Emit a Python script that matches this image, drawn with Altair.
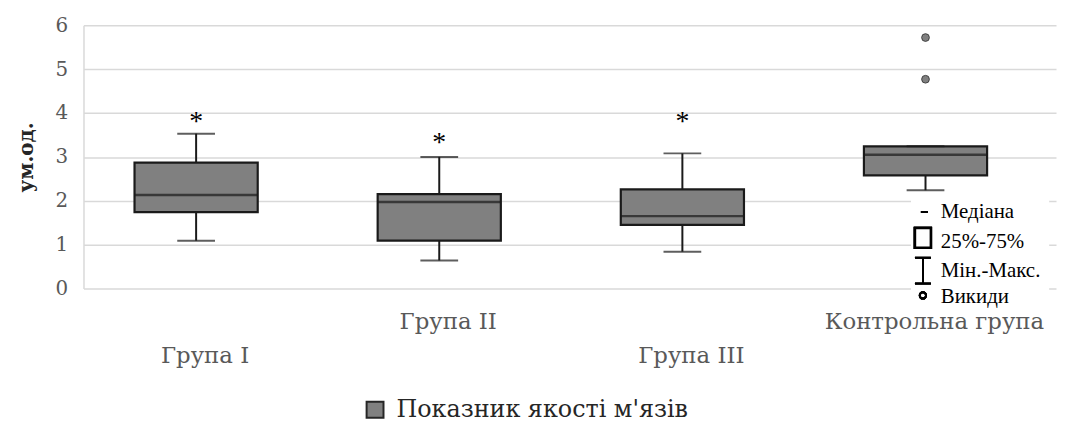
import altair as alt
import pandas as pd

groups = ["Група I", "Група II", "Група III", "Контрольна група"]
q1 = [1.74, 1.09, 1.45, 2.58]
q3 = [2.87, 2.15, 2.26, 3.24]
median = [2.13, 1.97, 1.65, 3.05]
wmin = [1.09, 0.64, 0.84, 2.24]
wmax = [3.53, 3.00, 3.08, 3.24]
star_groups = ["Група I", "Група II", "Група III"]
star_y = [3.90, 3.42, 3.91]
outlier_groups = ["Контрольна група", "Контрольна група"]
outlier_vals = [4.77, 5.72]
legend_items = ["Медіана", "25%-75%", "Мін.-Макс.", "Викиди"]
series_name = "Показник якості м'язів"

FONT = "Liberation Serif"
WIDE = "DejaVu Serif"
GRID = "#d9d9d9"
FILL = "#808080"
EDGE = "#1a1a1a"
OFF = -9

df = pd.DataFrame({"g": groups, "q1": q1, "q3": q3, "med": median, "lo": wmin, "hi": wmax})
stars = pd.DataFrame({"g": star_groups, "y": star_y, "t": ["*"] * len(star_groups)})
outs = pd.DataFrame({"g": outlier_groups, "v": outlier_vals})
labels = pd.DataFrame({"g": groups, "row": [1, 0, 1, 0]})

xs = alt.X("g:N", sort=groups, axis=None, scale=alt.Scale(domain=groups, paddingInner=0, paddingOuter=0))
yscale = alt.Scale(domain=[0, 6], nice=False)

base = alt.Chart(df)

axis_layer = base.mark_rule(opacity=0).encode(
    x=xs,
    y=alt.Y("lo:Q", scale=yscale, title="ум.од.",
            axis=alt.Axis(values=[0, 1, 2, 3, 4, 5, 6], format="d", grid=True, gridColor=GRID,
                          gridWidth=1.5, domainColor=GRID, domainWidth=1.5, ticks=False,
                          labelFont=WIDE, labelFontSize=20, labelColor="#595959", labelPadding=16,
                          titleFont=WIDE, titleFontSize=20, titleFontWeight="bold",
                          titleColor="#262626", titlePadding=19)),
)

whisk = base.mark_rule(color=EDGE, strokeWidth=2, xOffset=OFF).encode(x=xs, y="lo:Q", y2="hi:Q")
box = base.mark_bar(size=124, color=FILL, stroke=EDGE, strokeWidth=2.2, xOffset=OFF).encode(
    x=xs, y="q1:Q", y2="q3:Q")
med = base.mark_tick(size=124, thickness=2.5, color=EDGE, orient="horizontal", xOffset=OFF).encode(
    x=xs, y="med:Q")
cap_lo = base.mark_tick(size=38, thickness=2, color=EDGE, orient="horizontal", xOffset=OFF).encode(
    x=xs, y="lo:Q")
cap_hi = base.mark_tick(size=38, thickness=2, color=EDGE, orient="horizontal", xOffset=OFF).encode(
    x=xs, y="hi:Q")

outl = alt.Chart(outs).mark_point(filled=True, size=60, color=FILL, stroke="#404040",
                                   strokeWidth=1, opacity=1, xOffset=OFF).encode(x=xs, y=alt.Y("v:Q", scale=yscale))
star = alt.Chart(stars).mark_text(font=FONT, fontSize=28, color="#000000", baseline="middle",
                                  dy=5, xOffset=OFF).encode(x=xs, y=alt.Y("y:Q", scale=yscale), text="t:N")

xl_up = alt.Chart(labels).transform_filter("datum.row == 0").mark_text(
    font=WIDE, fontSize=23, color="#595959", baseline="middle").encode(
    x=xs, y=alt.value(299), text="g:N")
xl_lo = alt.Chart(labels).transform_filter("datum.row == 1").mark_text(
    font=WIDE, fontSize=23, color="#595959", baseline="middle").encode(
    x=xs, y=alt.value(333), text="g:N")

# inner legend (explanation of box parts)
leg_bg = base.mark_rect(color="white").encode(
    x=alt.value(833), x2=alt.value(972), y=alt.value(176), y2=alt.value(284))
leg_dash = base.mark_rule(color="#000000", strokeWidth=2).encode(
    x=alt.value(843), x2=alt.value(850), y=alt.value(188))
leg_sq = base.mark_rect(fill="white", stroke="#000000", strokeWidth=2.5).encode(
    x=alt.value(837), x2=alt.value(853), y=alt.value(204), y2=alt.value(224))
leg_i = base.mark_rule(color="#000000", strokeWidth=1.8).encode(
    x=alt.value(845), y=alt.value(234), y2=alt.value(260))
leg_i_top = base.mark_rule(color="#000000", strokeWidth=1.8).encode(
    x=alt.value(837), x2=alt.value(853), y=alt.value(234))
leg_i_bot = base.mark_rule(color="#000000", strokeWidth=1.8).encode(
    x=alt.value(837), x2=alt.value(853), y=alt.value(260))
leg_c = base.mark_point(shape="circle", size=40, stroke="#000000", strokeWidth=2, filled=False,
                        opacity=1).encode(x=alt.value(845), y=alt.value(272))
leg_texts = []
for i, (t, yy) in enumerate(zip(legend_items, [188, 218, 247, 274])):
    leg_texts.append(
        alt.Chart(pd.DataFrame({"t": [t]})).mark_text(font=FONT, fontSize=21, color="#000000",
                                                      align="left", baseline="middle").encode(
            x=alt.value(863), y=alt.value(yy), text="t:N"))

# bottom series legend
ser = pd.DataFrame({"t": [series_name]})
ser_sq = alt.Chart(ser).mark_rect(fill=FILL, stroke="#262626", strokeWidth=2).encode(
    x=alt.value(285), x2=alt.value(302), y=alt.value(379), y2=alt.value(395))
ser_tx = alt.Chart(ser).mark_text(font=WIDE, fontSize=24, color="#262626", align="left",
                                  baseline="middle").encode(x=alt.value(315), y=alt.value(387), text="t:N")

chart = alt.layer(axis_layer, whisk, box, med, cap_lo, cap_hi, outl, star, xl_up, xl_lo,
                  leg_bg, leg_dash, leg_sq, leg_i, leg_i_top, leg_i_bot, leg_c, *leg_texts,
                  ser_sq, ser_tx).properties(
    width=979, height=265,
    autosize=alt.AutoSizeParams(type="none"),
    padding={"left": 76, "top": 16, "right": 2, "bottom": 134},
).configure_view(stroke=None)

chart.save("out.html", embed_options={"renderer": "svg", "actions": False})
